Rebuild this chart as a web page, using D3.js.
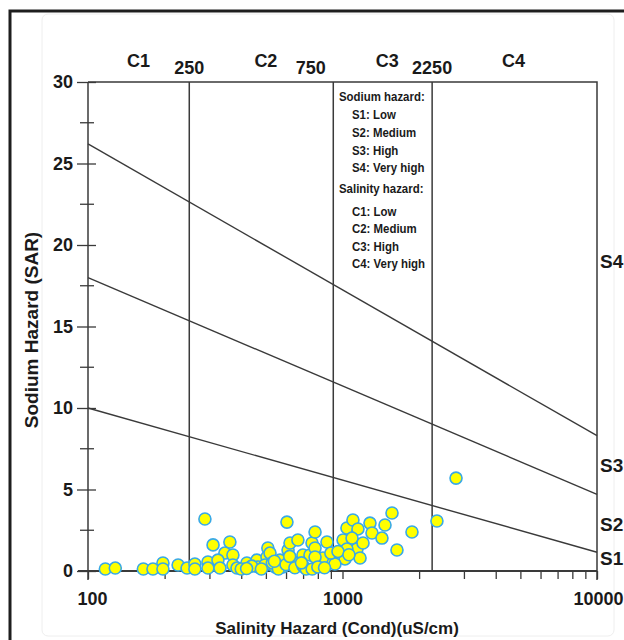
<!DOCTYPE html>
<html><head><meta charset="utf-8">
<script src="https://cdn.jsdelivr.net/npm/d3@7"></script>
<style>
body{margin:0;background:#fff;}
svg{display:block;}
text{font-family:"Liberation Sans",Arial,sans-serif;fill:#1a1a1a;}
</style></head><body>
<script>
// ---- data ----
const ecValues = [117,128,165,180,197,197,226,245,263,263,288,296,310,296,361,345,371,324,330,371,385,421,461,509,505,519,466,496,543,568,611,622,668,699,639,583,759,780,745,605,869,780,838,639,780,918,1005,1041,1099,1150,1090,1140,1041,1172,1023,1282,1306,1204,1469,1429,1565,1875,1637,2350,2793,934,400,440,480,530,560,600,650,700,720,760,800,850,900,960,1060,420,540,620,690];
const sarValues = [0.12,0.18,0.12,0.12,0.49,0.12,0.37,0.18,0.43,0.12,3.19,0.55,1.6,0.18,1.78,1.1,0.98,0.67,0.18,0.37,0.18,0.49,0.67,1.41,0.86,1.1,0.25,0.37,0.25,0.67,1.29,1.72,1.9,0.98,0.55,0.25,1.72,2.39,0.98,3.0,1.78,1.41,0.8,0.55,0.86,0.49,1.9,2.64,3.13,2.58,2.02,1.35,1.35,0.8,0.74,2.94,2.33,1.72,2.82,2.02,3.56,2.39,1.29,3.07,5.7,0.43,0.12,0.3,0.12,0.5,0.12,0.4,0.2,0.3,0.12,0.12,0.25,0.2,1.1,1.2,1.0,0.15,0.6,0.9,0.5];
const yMajorTicks = [0,5,10,15,20,25,30];
const yMinorTicks = [2.5,7.5,12.5,17.5,22.5,27.5];
const xTickLabels = [100,1000,10000];
const classNames = ["C1","C2","C3","C4"];
const classLabelEC = [158,500,1500,4700];
const boundaryLabels = ["250","750","2250"];
const boundaryLabelEC = [250,750,2250];
const boundaryLineEC = [250,920,2250];
// sodium hazard boundary lines: SAR at EC=100 and EC=10000
const sodiumLineLeft = [10,18,26.2];
const sodiumLineRight = [1.15,4.7,8.3];
const sodiumLabels = ["S1","S2","S3","S4"];
const sodiumLabelSAR = [0.8,2.9,6.5,19];
const legendLines = ["Sodium hazard:","S1: Low","S2: Medium","S3: High","S4: Very high","Salinity hazard:","C1: Low","C2: Medium","C3: High","C4: Very high"];

const W=624,H=640;
const svg=d3.select("body").append("svg").attr("width",W).attr("height",H);
// outer frame
svg.append("rect").attr("x",42).attr("y",14).attr("width",572).attr("height",622).attr("rx",6)
  .attr("fill","none").attr("stroke","#eeeeee").attr("stroke-width",1);
svg.append("path").attr("d","M10,641 V11 H625").attr("fill","none").attr("stroke","#1e1e1e").attr("stroke-width",3);

const x=d3.scaleLog().domain([100,10000]).range([88,597]);
const y=d3.scaleLinear().domain([0,30]).range([571,82]);
const lineCol="#3a3a3a";

// y axis
const ya=svg.append("g").attr("transform","translate(88,0)")
  .call(d3.axisLeft(y).tickValues(yMajorTicks).tickSize(0).tickPadding(15));
ya.select(".domain").remove();
ya.selectAll(".tick text").attr("font-size",18).attr("font-weight","bold").attr("fill","#1a1a1a").attr("font-family",null);
ya.selectAll(".tick").append("line").attr("x1",-11).attr("x2",8).attr("stroke",lineCol).attr("stroke-width",1.3);
svg.append("g").selectAll("line").data(yMinorTicks).join("line")
  .attr("x1",80).attr("x2",94).attr("y1",d=>y(d)).attr("y2",d=>y(d)).attr("stroke",lineCol).attr("stroke-width",1.3);
svg.append("line").attr("x1",88).attr("x2",88).attr("y1",82).attr("y2",580).attr("stroke",lineCol).attr("stroke-width",1.5);

// x axis
const minor=[];
[100,1000].forEach(b=>{for(let k=1;k<10;k++)minor.push(b*k);});
minor.push(10000);
const xa=svg.append("g").attr("transform","translate(0,571)")
  .call(d3.axisBottom(x).tickValues(minor).tickSize(8).tickPadding(13)
   .tickFormat(d=>xTickLabels.includes(d)?String(d):""));
xa.select(".domain").remove();
xa.selectAll(".tick line").attr("stroke",lineCol).attr("stroke-width",1.3);
xa.selectAll(".tick text").attr("font-size",18).attr("font-weight","bold").attr("fill","#1a1a1a").attr("font-family",null)
  .attr("dx",d=>d===100?4:(d===10000?1:0));
svg.append("line").attr("x1",78).attr("x2",597).attr("y1",571).attr("y2",571).attr("stroke",lineCol).attr("stroke-width",2);

// plot frame
svg.append("path").attr("d",`M88,82 H597 V580`).attr("fill","none").attr("stroke",lineCol).attr("stroke-width",1.5);
svg.append("g").selectAll("line").data(boundaryLineEC).join("line")
  .attr("x1",d=>x(d)).attr("x2",d=>x(d)).attr("y1",82).attr("y2",571).attr("stroke",lineCol).attr("stroke-width",1.5);

// sodium lines
svg.append("g").selectAll("line").data(sodiumLineLeft).join("line")
  .attr("x1",x(100)).attr("y1",d=>y(d)).attr("x2",x(10000)).attr("y2",(d,i)=>y(sodiumLineRight[i]))
  .attr("stroke",lineCol).attr("stroke-width",1.4);

// class labels
svg.append("g").selectAll("text").data(classNames).join("text")
  .attr("x",(d,i)=>x(classLabelEC[i])).attr("y",67).attr("text-anchor","middle")
  .attr("font-size",18).attr("font-weight","bold").text(d=>d);
svg.append("g").selectAll("text").data(boundaryLabels).join("text")
  .attr("x",(d,i)=>x(boundaryLabelEC[i])).attr("y",74).attr("text-anchor","middle")
  .attr("font-size",18).attr("font-weight","bold").text(d=>d);

// legend
const legY=[96,114,132,150,167,188,211,228,246,263];
svg.append("g").selectAll("text").data(legendLines).join("text")
  .attr("transform",(d,i)=>`translate(${(i===0||i===5)?339:352},${legY[i]+5}) scale(0.88,1.05)`)
  .attr("font-size",13).attr("font-weight","bold").text(d=>d);

// S labels
svg.append("g").selectAll("text").data(sodiumLabels).join("text")
  .attr("x",600).attr("y",(d,i)=>y(sodiumLabelSAR[i])+7)
  .attr("font-size",19).attr("font-weight","bold").text(d=>d);

// points
svg.append("g").selectAll("circle").data(ecValues).join("circle")
  .attr("cx",d=>x(d)).attr("cy",(d,i)=>y(sarValues[i])).attr("r",6)
  .attr("fill","#ffff00").attr("stroke","#39a9e6").attr("stroke-width",1.6);

// axis titles
svg.append("text").attr("x",337).attr("y",634).attr("text-anchor","middle")
  .attr("font-size",17).attr("font-weight","bold").text("Salinity Hazard (Cond)(uS/cm)");
svg.append("text").attr("transform","translate(38,330) rotate(-90)").attr("text-anchor","middle")
  .attr("font-size",19).attr("font-weight","bold").attr("fill","#2a2a2a").text("Sodium Hazard (SAR)");
</script></body></html>
